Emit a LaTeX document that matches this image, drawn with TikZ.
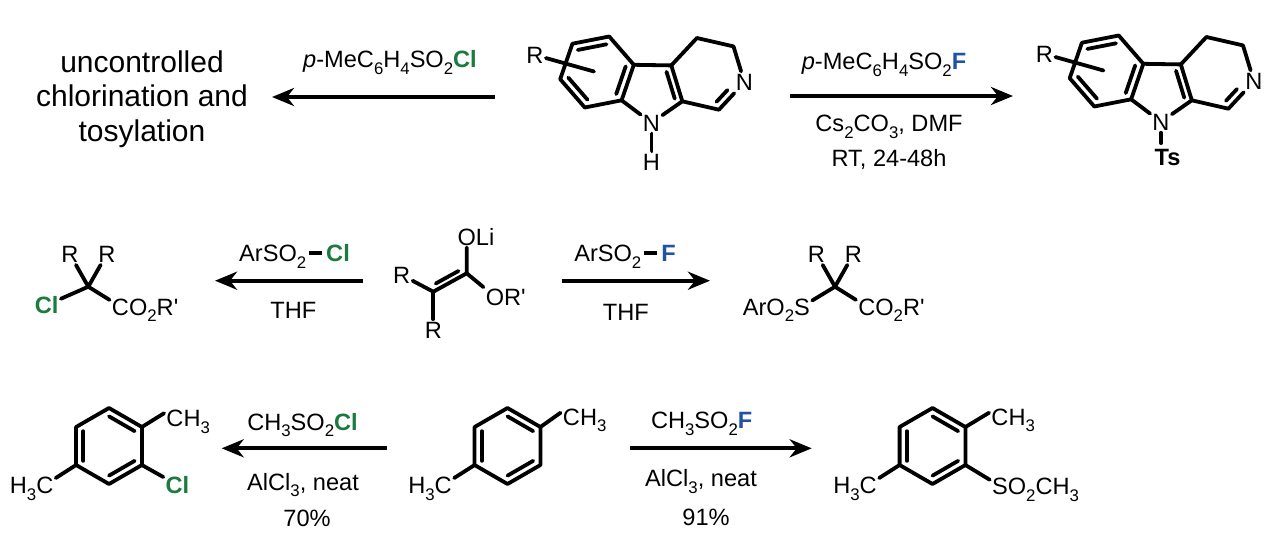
\documentclass[tikz,border=0pt]{standalone}
\usepackage{fontspec}
\setmainfont{Liberation Sans}
\usetikzlibrary{calc,arrows.meta}
\definecolor{clgreen}{RGB}{27,122,62}
\definecolor{fblue}{RGB}{32,82,165}
\newcommand{\lab}{\fontsize{11.8}{14}\selectfont}
\newcommand{\chs}[1]{\raisebox{-0.28em}{\fontsize{8.4}{8.4}\selectfont #1}}
\newcommand{\bdash}{\kern1.5pt\rule[3.4pt]{6.5pt}{1.9pt}\kern2pt}
\newcommand{\carboline}{%
	\path (597,72) coordinate (hc)
	(572.4,43.7) coordinate (a1)
	(609.2,36.5) coordinate (a2)
	(633.8,64.8) coordinate (a3)
	(621.6,100.3) coordinate (a4)
	(584.8,107.5) coordinate (a5)
	(560.2,79.2) coordinate (a6)
	(652.1,90.9) coordinate (pc)
	(671.3,65.4) coordinate (c3)
	(682.3,101.3) coordinate (c2)
	(707.9,73.9) coordinate (qc)
	(696.9,38.0) coordinate (c4)
	(733.5,46.4) coordinate (c5)
	(718.9,109.7) coordinate (c1)
	(594,71.5) coordinate (rr);
	\node[atom] (n9) at (651.5,122.8) {N};
	\node[atom] (n2) at (744.4,82.3) {N};
	\node[atom] (r) at (535,55) {R};
	\draw[bond] (a1) -- (a2) -- (a3) -- (a4) -- (a5) -- (a6) -- cycle;
	\draw[bond] (a3) -- (c3) -- (c2) -- (n9) -- (a4);
	\draw[bond] (c3) -- (c4) -- (c5) -- (n2) -- (c1) -- (c2);
	\draw[bond] ($(a1)!.22!(hc)$) -- ($(a2)!.22!(hc)$);
	\draw[bond] ($(a3)!.22!(hc)$) -- ($(a4)!.22!(hc)$);
	\draw[bond] ($(a5)!.22!(hc)$) -- ($(a6)!.22!(hc)$);
	\draw[bond] ($(c3)!.25!(pc)$) -- ($(c2)!.25!(pc)$);
	\path ($(c1)!.22!(qc)$) coordinate (d1) ($(n2)!.22!(qc)$) coordinate (d2);
	\draw[bond] (d1) -- ($(d1)!.55!(d2)$);
	\draw[bond] (r) -- (rr);
}
\begin{document}
\begin{tikzpicture}[x=0.5pt,y=-0.5pt,>=stealth, font=\lab, line join=round, line cap=round,
	bond/.style={line width=1.9pt},
	atom/.style={inner sep=1pt, text height=8.5pt, text depth=0pt},
	rxn/.style={line width=2pt, line cap=butt, -{Stealth[length=11pt,width=9pt,inset=3.5pt]}}]
	\useasboundingbox (0,0) rectangle (1267,541);
	
	\node[align=center, font=\fontsize{15}{17.3}\selectfont] (unc) at (142,99) {uncontrolled\\chlorination and\\tosylation};
	\carboline
	\node[atom] (h) at (651.5,162) {H};
	\draw[bond] (n9) -- (h);
	\begin{scope}[shift={(509.5,-1)}]
		\carboline
		\node[atom] (ts) at (658,158) {\textbf{Ts}};
		\draw[bond, shorten >=1.5pt] (n9) -- (n9 |- ts.north);
	\end{scope}
	
	\path (495,97) coordinate (s1) (272,97) coordinate (e1)
	(790,96) coordinate (s2) (1013,96) coordinate (e2)
	(363,280.7) coordinate (s3) (215,280.7) coordinate (e3)
	(561.7,280.7) coordinate (s4) (710,280.7) coordinate (e4)
	(386.7,448.3) coordinate (s5) (221.7,448.3) coordinate (e5)
	(630,448.3) coordinate (s6) (811.7,448.3) coordinate (e6);
	\foreach \i in {1,...,6}{
		\draw[rxn] (s\i) -- (e\i);
	}
	
	\node[atom] (top1) at (390,59) {\textit{p}-MeC\chs{6}H\chs{4}SO\chs{2}{\color{clgreen}\textbf{Cl}}};
	\node[atom] (top2) at (884,61) {\textit{p}-MeC\chs{6}H\chs{4}SO\chs{2}{\color{fblue}\textbf{F}}};
	\node[atom] (bot2a) at (889,123.3) {Cs\chs{2}CO\chs{3}, DMF};
	\node[atom] (bot2b) at (889,158.3) {RT, 24-48h};
	\node[atom] (top3) at (294.5,253.3) {ArSO\chs{2}\bdash{\color{clgreen}\textbf{Cl}}};
	\node[atom] (bot3) at (293.3,310) {THF};
	\node[atom] (top4) at (625,253.3) {ArSO\chs{2}\bdash{\color{fblue}\textbf{F}}};
	\node[atom] (bot4) at (625.8,311.7) {THF};
	\node[atom] (top5) at (302.5,421.7) {CH\chs{3}SO\chs{2}{\color{clgreen}\textbf{Cl}}};
	\node[atom] (bot5a) at (303,481.7) {AlCl\chs{3}, neat};
	\node[atom] (bot5b) at (307,518.3) {70\%};
	\node[atom] (top6) at (701.7,420) {CH\chs{3}SO\chs{2}{\color{fblue}\textbf{F}}};
	\node[atom] (bot6a) at (701,478.3) {AlCl\chs{3}, neat};
	\node[atom] (bot6b) at (706,516.7) {91\%};
	
	\coordinate (qa) at (88.3,286.7);
	\node[atom] (ra1) at (69.8,254) {R};
	\node[atom] (ra2) at (106.8,254) {R};
	\node[atom, text=clgreen] (cla) at (46.7,305) {\textbf{Cl}};
	\node[atom] (esa) at (120.5,306.7) {C\rlap{O\chs{2}R\textquotesingle}};
	\draw[bond] (ra1) -- (qa) -- (ra2);
	\draw[bond] (cla) -- (qa) -- (esa);
	
	\coordinate (cb) at (433.3,291.7);
	\coordinate (ca) at (466.7,273.3);
	\node[atom] (re1) at (401.7,275) {R};
	\node[atom] (re2) at (433.3,330) {R};
	\node[atom] (oli) at (466.7,236.7) {O\rlap{Li}};
	\node[atom] (ore) at (495,296.7) {O\rlap{R\textquotesingle}};
	\draw[bond] (re1) -- (cb) -- (ca) -- (oli);
	\draw[bond] (ca) -- (ore);
	\draw[bond] (cb) -- (re2);
	\draw[bond] ($(cb)!.16!(ca)!3pt!90:(ca)$) -- ($(ca)!.16!(cb)!3pt!-90:(cb)$);
	
	\coordinate (qb) at (835,286.7);
	\node[atom] (rb1) at (816.5,254) {R};
	\node[atom] (rb2) at (853.5,254) {R};
	\node[atom] (sb) at (802,306.7) {\llap{ArO\chs{2}}S};
	\node[atom] (esb) at (866.8,306.7) {C\rlap{O\chs{2}R\textquotesingle}};
	\draw[bond] (rb1) -- (qb) -- (rb2);
	\draw[bond] (sb) -- (qb) -- (esb);
	
	\foreach \k/\cx in {u/109,v/507.5,w/932.5}{
		\path (\cx,446) coordinate (\k0);
		\foreach \i/\a in {1/-90,2/-30,3/30,4/90,5/150,6/210}{
			\path (\k0)+(\a:38) coordinate (\k\i);
		}
		\draw[bond] (\k1) -- (\k2) -- (\k3) -- (\k4) -- (\k5) -- (\k6) -- cycle;
		\draw[bond] ($(\k1)!.22!(\k0)$) -- ($(\k2)!.22!(\k0)$);
		\draw[bond] ($(\k3)!.22!(\k0)$) -- ($(\k4)!.22!(\k0)$);
		\draw[bond] ($(\k5)!.22!(\k0)$) -- ($(\k6)!.22!(\k0)$);
	}
	\node[atom] (u7) at (175,418.3) {C\rlap{H\chs{3}}};
	\node[atom, text=clgreen] (u8) at (177.5,485) {\textbf{Cl}};
	\node[atom] (u9) at (44.8,485) {\llap{H\chs{3}}C};
	\draw[bond] (u2) -- (u7.155);
	\draw[bond] (u3) -- (u8);
	\draw[bond] (u5) -- (u9);
	\node[atom] (v7) at (571.5,416.7) {C\rlap{H\chs{3}}};
	\node[atom] (v9) at (443.2,485) {\llap{H\chs{3}}C};
	\draw[bond] (v2) -- (v7.160);
	\draw[bond] (v5) -- (v9);
	\node[atom] (w7) at (1000,416.7) {C\rlap{H\chs{3}}};
	\node[atom] (w8) at (1000,486) {S\rlap{O\chs{2}CH\chs{3}}};
	\node[atom] (w9) at (868.2,485) {\llap{H\chs{3}}C};
	\draw[bond] (w2) -- (w7.160);
	\draw[bond] (w3) -- (w8);
	\draw[bond] (w5) -- (w9);
\end{tikzpicture}
\end{document}
